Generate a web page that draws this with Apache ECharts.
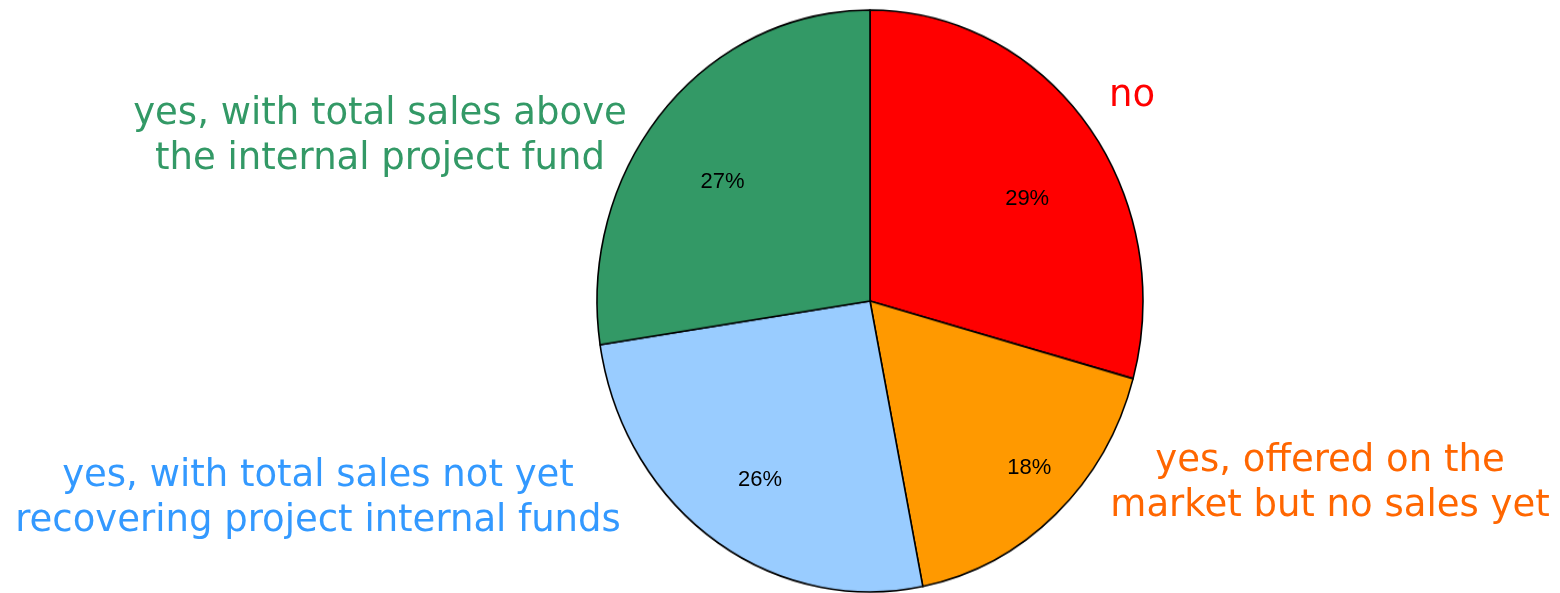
<!DOCTYPE html>
<html>
<head>
<meta charset="utf-8">
<script src="https://cdn.jsdelivr.net/npm/echarts@6/dist/echarts.min.js"></script>
<style>
  html, body { margin: 0; padding: 0; background: #fff; }
  #wrap { position: relative; width: 1560px; height: 593px; overflow: hidden; }
  #pie { position: absolute; left: 0; top: 0; width: 1560px; height: 593px;
         transform: scaleY(1.066); transform-origin: 50% 301px; }
  #labels { position: absolute; left: 0; top: 0; width: 1560px; height: 593px; }
</style>
</head>
<body>
<div id="wrap">
  <div id="pie"></div>
  <div id="labels"></div>
</div>
<script>
// ---- data ----
const categories = [
  'no',
  'yes, offered on the market but no sales yet',
  'yes, with total sales not yet recovering project internal funds',
  'yes, with total sales above the internal project fund'
];
const values = [29.3, 17.6, 25.7, 27.4];
const sliceColors = ['#FF0000', '#FF9900', '#99CCFF', '#339966'];
const labelTexts = [
  'no',
  'yes, offered on the\nmarket but no sales yet',
  'yes, with total sales not yet\nrecovering project internal funds',
  'yes, with total sales above\nthe internal project fund'
];
const labelColors = ['#FF0000', '#FF6600', '#3399FF', '#339966'];

// ---- pie (vertically stretched into an ellipse) ----
const pieChart = echarts.init(document.getElementById('pie'), null, { width: 1560, height: 593 });
pieChart.setOption({
  animation: false,
  series: [{
    type: 'pie',
    center: [870, 301],
    radius: [0, 273],
    startAngle: 90,
    clockwise: true,
    silent: true,
    itemStyle: { borderColor: '#000', borderWidth: 1.6 },
    label: { show: false },
    labelLine: { show: false },
    data: categories.map((c, i) => ({ name: c, value: values[i], itemStyle: { color: sliceColors[i] } }))
  }]
});

// ---- percentage labels + outer category labels (unstretched layer) ----
const pctNudge = [[-6, 22], [20, 17], [8, 11], [8, 15]];
const labelPos = [[1132, 96], [1330, 484], [318, 499], [380, 137]];
const labelChart = echarts.init(document.getElementById('labels'), null, { width: 1560, height: 593 });
labelChart.setOption({
  animation: false,
  series: [{
    type: 'pie',
    center: [870, 301],
    radius: [131, 273],
    startAngle: 90,
    clockwise: true,
    silent: true,
    percentPrecision: 0,
    itemStyle: { color: 'rgba(0,0,0,0)', borderWidth: 0 },
    label: {
      show: true, position: 'inside', formatter: '{d}%',
      color: '#000', fontFamily: '"Liberation Sans", Arial, sans-serif', fontSize: 22
    },
    labelLine: { show: false },
    labelLayout: function (p) {
      const n = pctNudge[p.dataIndex];
      return { dx: n[0], dy: n[1] };
    },
    data: categories.map((c, i) => ({ name: c, value: values[i] }))
  }],
  graphic: labelTexts.map((t, i) => ({
    type: 'text',
    x: labelPos[i][0],
    y: labelPos[i][1],
    silent: true,
    style: {
      text: t,
      fill: labelColors[i],
      font: '37px "DejaVu Sans", Verdana, sans-serif',
      lineHeight: 45,
      align: 'center',
      verticalAlign: 'middle'
    }
  }))
});
</script>
</body>
</html>
